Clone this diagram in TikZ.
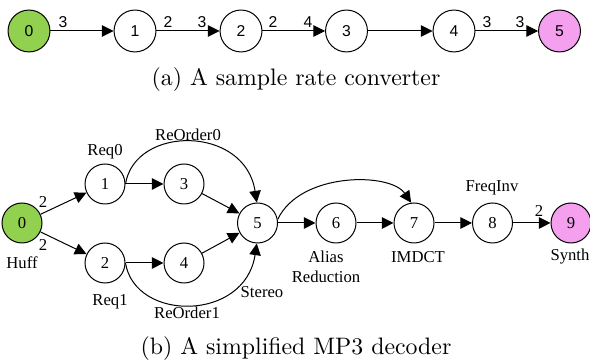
\documentclass[tikz,border=0pt]{standalone}
\usepackage{fontspec}
\newfontfamily\arialf{Liberation Sans}
\newfontfamily\timesf{Liberation Serif}
\usetikzlibrary{arrows.meta}
\definecolor{greenfill}{HTML}{92D050}
\definecolor{pinkfill}{HTML}{F5A0EF}
\begin{document}
\begin{tikzpicture}[x=0.42pt,y=-0.42pt,
 snode/.style={circle,draw,line width=0.42pt,minimum size=17.6pt,inner sep=0pt,font=\arialf\fontsize{6.6}{7}\selectfont},
 rnode/.style={circle,draw,line width=0.42pt,minimum size=16.8pt,inner sep=0pt,font=\timesf\fontsize{7}{8}\selectfont},
 arr/.style={line width=0.42pt,-{Triangle[length=4.9pt,width=4.8pt]}},
 slab/.style={font=\arialf\fontsize{6.6}{7}\selectfont,inner sep=0pt},
 rlab/.style={font=\timesf\fontsize{7}{8.4}\selectfont,inner sep=0pt,align=center},
 capt/.style={anchor=base,inner sep=0pt,font=\normalsize}]
\useasboundingbox (0,0) rectangle (590,360);
% (a) sample rate converter
\node[snode,fill=greenfill] (a0) at (29,31) {0};
\node[snode] (a1) at (135,31) {1};
\node[snode] (a2) at (241,31) {2};
\node[snode] (a3) at (346.5,31) {3};
\node[snode] (a4) at (454,31) {4};
\node[snode,fill=pinkfill] (a5) at (559.5,31) {5};
\draw[arr] (a0) -- (a1);
\draw[arr] (a1) -- (a2);
\draw[arr] (a2) -- (a3);
\draw[arr] (a3) -- (a4);
\draw[arr] (a4) -- (a5);
\node[slab] (la01) at (63,22) {3};
\node[slab] (la12) at (168,22) {2};
\node[slab] (la21) at (202,22) {3};
\node[slab] (la23) at (273,22) {2};
\node[slab] (la32) at (308,22) {4};
\node[slab] (la45) at (487,22) {3};
\node[slab] (la54) at (520,22) {3};
\node[capt] (capa) at (296,86) {(a) A sample rate converter};
% (b) MP3 decoder
\node[rnode,fill=greenfill] (b0) at (22,223) {0};
\node[rnode] (b1) at (105,184) {1};
\node[rnode] (b2) at (105,263) {2};
\node[rnode] (b3) at (184,184) {3};
\node[rnode] (b4) at (184,263) {4};
\node[rnode] (b5) at (257.5,223) {5};
\node[rnode] (b6) at (336,223) {6};
\node[rnode] (b7) at (414,223) {7};
\node[rnode] (b8) at (492.5,223) {8};
\node[rnode,fill=pinkfill] (b9) at (571,223) {9};
\draw[arr] (b0) -- (b1);
\draw[arr] (b0) -- (b2);
\draw[arr] (b1) -- (b3);
\draw[arr] (b2) -- (b4);
\draw[arr] (b3) -- (b5);
\draw[arr] (b4) -- (b5);
\draw[arr] (b5) -- (b6);
\draw[arr] (b6) -- (b7);
\draw[arr] (b7) -- (b8);
\draw[arr] (b8) -- (b9);
\draw[arr] (b1.east) .. controls (135,125) and (245,125) .. (b5.92);
\draw[arr] (b2.east) .. controls (135,322) and (245,322) .. (b5.268);
\draw[arr] (b5.10) .. controls (300,172) and (390,172) .. (b7.98);
\node[rlab] (l2a) at (43,202) {2};
\node[rlab] (l2b) at (43,245) {2};
\node[rlab] (lhuff) at (22,263) {Huff};
\node[rlab] (lreq0) at (105,152) {Req0};
\node[rlab] (lreq1) at (110,302) {Req1};
\node[rlab] (lro0) at (188,135) {ReOrder0};
\node[rlab] (lro1) at (187,313) {ReOrder1};
\node[rlab] (lst) at (262,292) {Stereo};
\node[rlab] (lal) at (326,267) {Alias\\Reduction};
\node[rlab] (lim) at (418,257) {IMDCT};
\node[rlab] (lfi) at (492,188) {FreqInv};
\node[rlab] (l2c) at (539,211) {2};
\node[rlab] (lsy) at (570,257) {Synth};
\node[capt] (capb) at (296,355) {(b) A simplified MP3 decoder};
\end{tikzpicture}
\end{document}
